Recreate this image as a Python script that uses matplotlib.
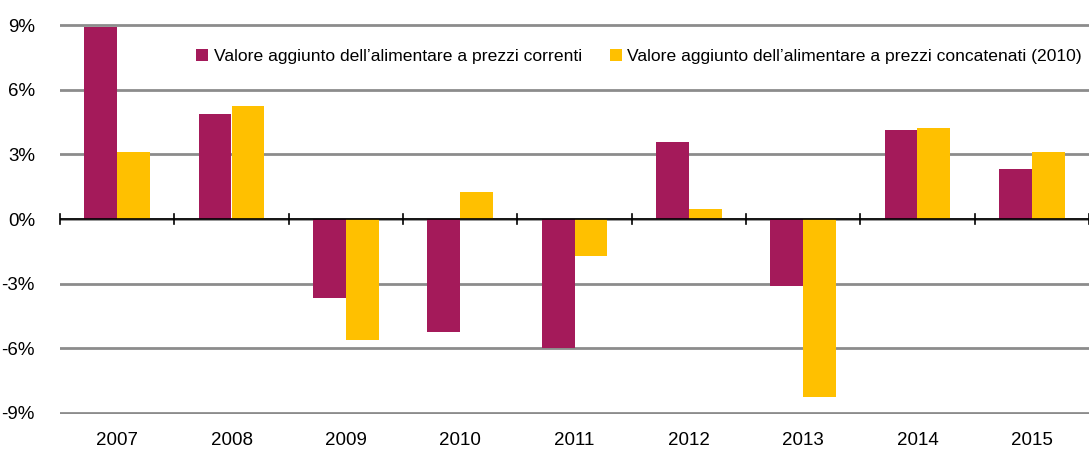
import numpy as np
import matplotlib.pyplot as plt
from matplotlib.ticker import FuncFormatter

plt.rcParams['font.family'] = ['Liberation Sans Narrow', 'Liberation Sans', 'DejaVu Sans']

years = ['2007', '2008', '2009', '2010', '2011', '2012', '2013', '2014', '2015']
correnti = [8.9, 4.86, -3.66, -5.23, -5.97, 3.56, -3.1, 4.12, 2.31]
concatenati = [3.1, 5.23, -5.6, 1.25, -1.71, 0.46, -8.24, 4.21, 3.1]
label_correnti = "Valore aggiunto dell\u2019alimentare a prezzi correnti"
label_concatenati = "Valore aggiunto dell\u2019alimentare a prezzi concatenati (2010)"

fig = plt.figure(figsize=(10.89, 4.51), dpi=100)
ax = fig.add_axes([60 / 1089, 1 - 414 / 451, 1 - 60 / 1089, 390 / 451])

x = np.arange(len(years))
w = 0.287
ax.bar(x - w / 2, correnti, w, color='#A41A5A', label=label_correnti, zorder=3)
ax.bar(x + w / 2, concatenati, w, color='#FFC000', label=label_concatenati, zorder=3)

ax.set_xlim(-0.5, len(years) - 0.5)
ax.set_ylim(-9.05, 9.05)
ax.set_yticks([-9, -6, -3, 0, 3, 6, 9])
ax.yaxis.set_major_formatter(FuncFormatter(lambda v, p: f"{v:.0f}%"))
ax.yaxis.grid(True, color='#8c8c8c', linewidth=2, zorder=0)
ax.tick_params(axis='y', length=0, pad=18, labelsize=13.5)

# zero line with category boundary ticks
ax.axhline(0, color='black', linewidth=1.2, zorder=4)
for b in np.arange(-0.5, len(years) - 0.4, 1.0):
    ax.plot([b, b], [-0.22, 0.22], color='black', linewidth=1.2, zorder=4, clip_on=False)

ax.set_xticks(x)
ax.set_xticklabels(years)
ax.tick_params(axis='x', length=0, pad=13, labelsize=13.5)

for s in ax.spines.values():
    s.set_visible(False)

ax.legend(loc='upper right', bbox_to_anchor=(1.0, 0.955), ncol=2, frameon=False,
          fontsize=12.6, handlelength=0.7, handleheight=0.7, handletextpad=0.3,
          columnspacing=1.6, borderaxespad=0)

fig.savefig('out.png', dpi=100)
